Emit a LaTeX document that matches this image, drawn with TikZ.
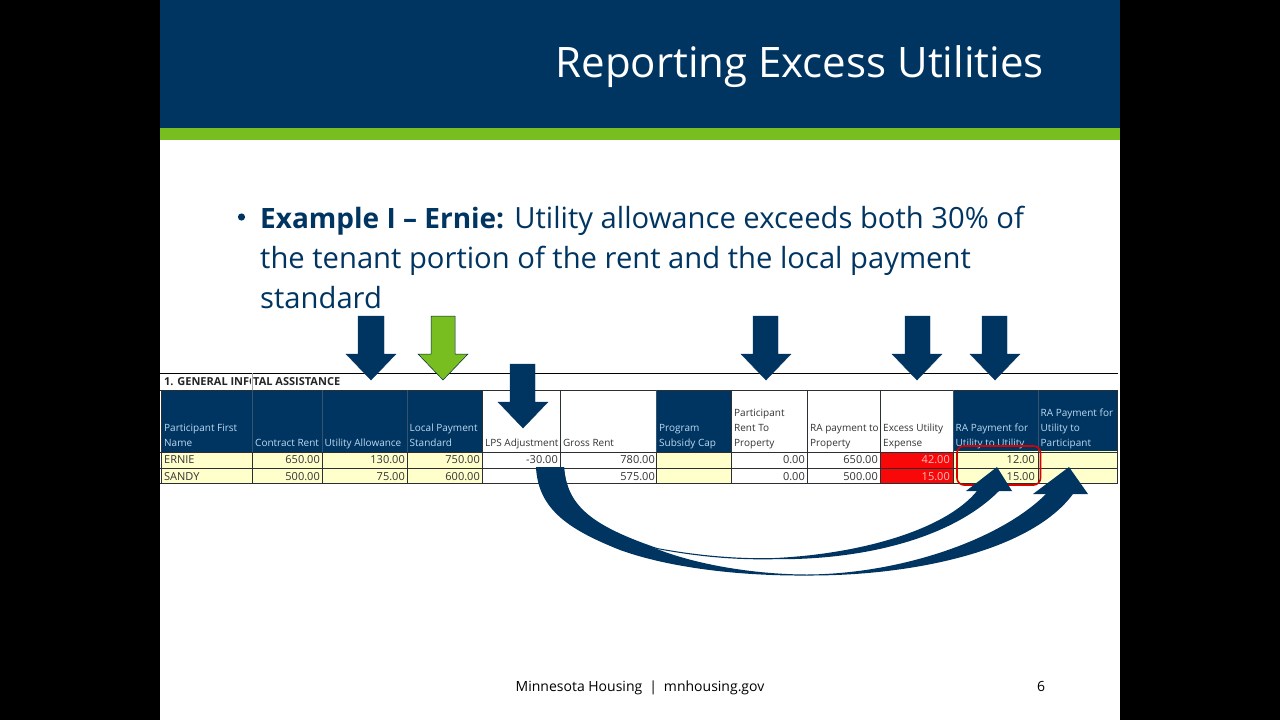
\documentclass[tikz,border=0pt]{standalone}
\usepackage{fontspec}
\setmainfont{Open Sans}
\definecolor{navy}{HTML}{003562}
\definecolor{lime}{HTML}{78BE20}
\definecolor{cream}{HTML}{FFFFCC}
\definecolor{grid}{HTML}{2A2F33}
\definecolor{hdrtxt}{HTML}{BBD9F0}
\definecolor{redcell}{HTML}{F80808}
\definecolor{celltxt}{HTML}{333333}
\tikzset{
  hdr/.style={anchor=base west,inner sep=0pt,font=\fontsize{10}{11}\selectfont,text=hdrtxt},
  hdw/.style={anchor=base west,inner sep=0pt,font=\fontsize{10}{11}\selectfont,text=celltxt},
  val/.style={anchor=base east,inner sep=0pt,font=\fontsize{11}{12}\selectfont,text=celltxt},
  nam/.style={anchor=base west,inner sep=0pt,font=\fontsize{11}{12}\selectfont,text=celltxt},
  redv/.style={anchor=base east,inner sep=0pt,font=\fontsize{11}{12}\selectfont,text=red!25!white},
  body/.style={anchor=base west,inner sep=0pt,font=\fontsize{29.2}{32}\selectfont,text=navy},
  blockn/.style={fill=navy,draw=navy,line width=.4pt},
  blockg/.style={fill=lime,draw=navy!70!black,line width=.5pt},
  sect/.style={anchor=base west,inner sep=0pt,font=\bfseries\fontsize{11}{12}\selectfont,text=black!85},
}
\begin{document}
\begin{tikzpicture}[x=1pt,y=-1pt]
\useasboundingbox (0,0) rectangle (1280,720);
\fill[black] (0,0) rectangle (1280,720);
\fill[white] (160,0) rectangle (1120,720);
\fill[navy] (160,0) rectangle (1120,128);
\fill[lime] (160,128) rectangle (1120,140);
\node[anchor=base east,inner sep=0pt,text=white,font=\fontsize{42}{44}\selectfont] (title) at (1044,77) {Reporting Excess Utilities};
% bullet text
\fill[navy] (241.5,217) circle (3.6);
\node[body] (b1) at (260,228) {{\fontsize{28}{32}\selectfont\textbf{Example I – Ernie:}} Utility allowance exceeds both 30\% of};
\node[body] (b2) at (260,268) {the tenant portion of the rent and the local payment};
\node[body] (b3) at (260,308) {standard};
% table title
\draw[black,line width=.9pt] (160,373) -- (1118,373);
\node[sect] (sec) at (164,385.5) {1. GENERAL INFC};
\fill[white] (251,375) rectangle (255,389);
\node[sect] (sec2) at (253,385.5) {TAL ASSISTANCE};
\draw[gray!70,line width=.7pt] (252,373) -- (252,390);
% header fills
\fill[navy] (161,390) rectangle (482,452);
\fill[navy] (656,390) rectangle (731,452);
\fill[navy] (953,390) rectangle (1117,452);
% header texts
\node[hdr] (h1a) at (164,431) {Participant First};
\node[hdr] (h1b) at (164,446) {Name};
\node[hdr] (h2) at (255,446) {Contract Rent};
\node[hdr] (h3) at (324.5,446) {Utility Allowance};
\node[hdr] (h4a) at (409.5,431) {Local Payment};
\node[hdr] (h4b) at (409.5,446) {Standard};
\node[hdw] (h5) at (485,446) {LPS Adjustment};
\node[hdw] (h6) at (563,446) {Gross Rent};
\node[hdr] (h7a) at (659,431) {Program};
\node[hdr] (h7b) at (659,446) {Subsidy Cap};
\node[hdw] (h8a) at (734,416) {Participant};
\node[hdw] (h8b) at (734,431) {Rent To};
\node[hdw] (h8c) at (734,446) {Property};
\node[hdw] (h9a) at (810,431) {RA payment to};
\node[hdw] (h9b) at (810,446) {Property};
\node[hdw] (h10a) at (883,431) {Excess Utility};
\node[hdw] (h10b) at (883,446) {Expense};
\node[hdr] (h11a) at (955.5,431) {RA Payment for};
\node[hdr] (h11b) at (955.5,446.5) {Utility to Utility};
\node[hdr] (h12a) at (1040.5,416) {RA Payment for};
\node[hdr] (h12b) at (1040.5,431) {Utility to};
\node[hdr] (h12c) at (1040.5,446) {Participant};
% row fills
\fill[cream] (161,452) rectangle (482,483.5);
\fill[cream] (656,452) rectangle (731,483.5);
\fill[cream] (953,450.5) rectangle (1117,483.5);
\fill[redcell] (881,452) rectangle (953,483.5);
% grid
\draw[grid,line width=.9pt] (160,390) -- (1118,390);
\draw[grid,line width=.8pt] (160,452) -- (1118,452);
\draw[grid,line width=.8pt] (160,468) -- (1118,468);
\draw[grid,line width=.8pt] (160,483.5) -- (1118,483.5);
\foreach \xa in {482,560,731,807,880}
  \draw[grid,line width=.8pt] (\xa,390) -- (\xa,483.5);
\foreach \xa in {252,322,407,656,953,1038}
  {\draw[navy!60!gray,line width=.7pt] (\xa,390) -- (\xa,452);
   \draw[grid,line width=.8pt] (\xa,452) -- (\xa,483.5);}
\draw[grid,line width=.8pt] (161,390) -- (161,483.5);
\draw[grid,line width=.8pt] (1117.5,390) -- (1117.5,483.5);
% rows
\node[nam] (n1) at (164,463.5) {ERNIE};
\node[nam] (n2) at (164,480) {SANDY};
\foreach \nm/\xa/\ta/\tb in {c/320/650.00/500.00,u/405/130.00/75.00,l/480/750.00/600.00,g/655/780.00/575.00,r/805/0.00/0.00,p/878/650.00/500.00}{
  \node[val] (\nm1) at (\xa,463.5) {\ta};
  \node[val] (\nm2) at (\xa,480) {\tb};
}
\node[val] (a1) at (558,463.5) {-30.00};
\node[redv] (e1) at (950,463.5) {42.00};
\node[redv] (e2) at (950,480) {15.00};
\node[val] (t1) at (1035,463.5) {12.00};
\node[val] (t2) at (1035,480) {15.00};
% callout
\draw[red!85!black,line width=1.6pt,rounded corners=7pt] (957,446) rectangle (1040.5,485);
% down block arrows
\foreach \sa/\sb/\ha/\hb/\tipx/\ya/\yb/\yc in {358/384/346/396/371/316/354/380,753/778/741/791/766/316/354/380,905/930/892/942/917/316/354/380,982/1007/970/1020/995/316/354/380,510/535/498/548/523/364/402/428}
  \draw[blockn] (\sa,\ya) -- (\sb,\ya) -- (\sb,\yb) -- (\hb,\yb) -- (\tipx,\yc) -- (\ha,\yb) -- (\sa,\yb) -- cycle;
\draw[blockg] (431,316) -- (455,316) -- (455,354) -- (468,354) -- (443,380) -- (418,354) -- (431,354) -- cycle;
% curved arrows
\fill[navy] (564,467) .. controls (567,505) and (590,525) .. (657,548)
  .. controls (700,556) and (740,559) .. (775,558)
  .. controls (860,554) and (945,530) .. (977,491)
  -- (966,491) -- (997,467) -- (1012,491) -- (999,491)
  .. controls (950,540) and (860,560) .. (775,559.2)
  .. controls (735,560) and (700,557) .. (657,549)
  .. controls (585,530) and (562,506) .. (560,467) -- cycle;
\fill[navy] (536,467) .. controls (538,510) and (570,530) .. (620,550)
  .. controls (670,568) and (740,576) .. (807,575.5)
  .. controls (910,576) and (1030,552) .. (1073,494)
  -- (1088,494) -- (1069,467) -- (1033,494) -- (1046,494)
  .. controls (1000,540) and (900,574) .. (807,574.5)
  .. controls (760,574.5) and (700,566) .. (657,549)
  .. controls (590,527) and (567,506) .. (564,467) -- cycle;
% footer
\node[anchor=base,inner sep=0pt,font=\fontsize{14}{15}\selectfont,text=black] (foot) at (640,691) {Minnesota Housing\enspace|\enspace mnhousing.gov};
\node[anchor=base,inner sep=0pt,font=\fontsize{14}{15}\selectfont,text=black] (pg) at (1041,691) {6};
\end{tikzpicture}
\end{document}
